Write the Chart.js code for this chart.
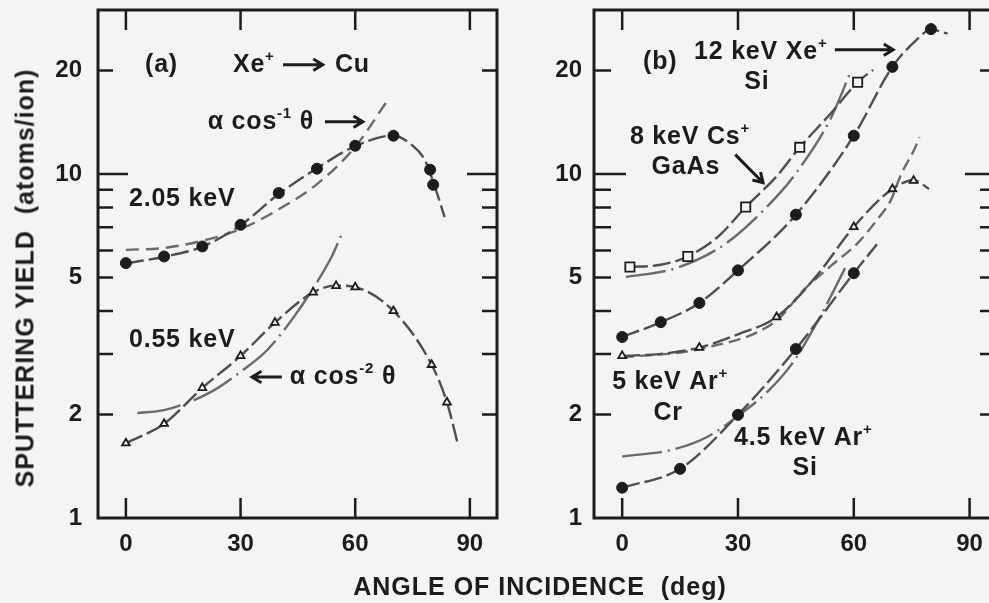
<!DOCTYPE html>
<html>
<head>
<meta charset="utf-8">
<script src="https://cdn.jsdelivr.net/npm/chart.js@4.4.0/dist/chart.umd.min.js"></script>
<style>
html, body { margin: 0; padding: 0; background: #f4f4f4; overflow: hidden; width: 989px; height: 603px; }
canvas { position: absolute; top: 0; }
#chartA { left: 0; }
#chartB { left: 540px; }
.title { position: absolute; font: bold 25px "Liberation Sans", Arial, sans-serif; letter-spacing: 1px; color: #1c1c1c; white-space: pre; }
#xTitle { left: 540px; top: 586px; transform: translate(-50%, -50%); }
#yTitle { left: 25px; top: 278px; transform: translate(-50%, -50%) rotate(-90deg); }
</style>
</head>
<body>
<canvas id="chartA" width="500" height="603"></canvas>
<canvas id="chartB" width="460" height="603"></canvas>
<div class="title" id="xTitle">ANGLE OF INCIDENCE  (deg)</div>
<div class="title" id="yTitle">SPUTTERING YIELD  (atoms/ion)</div>
<script>
// axis ticks
const xTicks = [0, 30, 60, 90];
const yTicks = [1, 2, 3, 4, 5, 6, 7, 8, 9, 10, 20];
const yLabels = [1, 2, 5, 10, 20];

// (a) Xe+ -> Cu, 2.05 keV
const cuHighAngle = [0, 10, 20, 30, 40, 50, 60, 70, 79.6, 80.4];
const cuHighYield = [5.51, 5.76, 6.16, 7.12, 8.81, 10.37, 12.09, 12.93, 10.3, 9.31];
const cuHighCurveAngle = [0, 10, 20, 30, 40, 50, 60, 70, 75, 78, 80, 83.4];
const cuHighCurveYield = [5.5, 5.75, 6.15, 7.1, 8.75, 10.4, 12.05, 12.95, 12.1, 11.1, 9.8, 7.5];
const cuCos1Angle = [0, 10, 20, 30, 40, 50, 60, 68];
const cuCos1Yield = [6.02, 6.1, 6.4, 6.92, 7.9, 9.35, 12.0, 16.1];

// (a) Xe+ -> Cu, 0.55 keV
const cuLowAngle = [0, 10, 20, 30, 39, 49, 55, 60, 70, 80, 84];
const cuLowYield = [1.65, 1.88, 2.39, 2.96, 3.70, 4.53, 4.73, 4.69, 4.00, 2.79, 2.17];
const cuLowCurveAngle = [0, 10, 20, 30, 39, 49, 55, 60, 70, 80, 84, 86.8];
const cuLowCurveYield = [1.65, 1.88, 2.39, 2.96, 3.70, 4.53, 4.74, 4.69, 4.00, 2.79, 2.17, 1.65];
const cuCos2Angle = [3, 10, 16, 23, 30, 37, 44, 50, 54, 56.5];
const cuCos2Yield = [2.02, 2.06, 2.16, 2.35, 2.66, 3.08, 3.85, 4.85, 5.8, 6.7];

// (b) 8 keV Cs+ -> GaAs
const gaasAngle = [2, 17, 32, 46, 61];
const gaasYield = [5.37, 5.76, 8.02, 11.96, 18.5];
const gaasCurveAngle = [2, 10, 17, 25, 32, 40, 46, 54, 61, 65];
const gaasCurveYield = [5.37, 5.45, 5.76, 6.6, 8.02, 9.85, 11.96, 15.0, 18.5, 20.1];
const gaasFitAngle = [1, 14, 27, 40, 45, 54, 59];
const gaasFitYield = [5.02, 5.33, 6.3, 8.6, 10.05, 14.5, 19.6];

// (b) 12 keV Xe+ -> Si
const siXeAngle = [0, 10, 20, 30, 45, 60, 70, 80];
const siXeYield = [3.36, 3.71, 4.22, 5.25, 7.62, 12.93, 20.5, 26.4];
const siXeCurveAngle = [0, 10, 20, 30, 45, 60, 70, 76, 80, 84.3];
const siXeCurveYield = [3.36, 3.71, 4.22, 5.25, 7.62, 12.93, 20.5, 24.4, 26.3, 25.6];

// (b) 5 keV Ar+ -> Cr
const crAngle = [0, 20, 40, 60, 70, 75.5];
const crYield = [2.96, 3.13, 3.84, 7.02, 9.05, 9.57];
const crCurveAngle = [0, 10, 20, 30, 40, 50, 60, 70, 75.5, 79.5];
const crCurveYield = [2.96, 3.0, 3.13, 3.42, 3.84, 5.0, 7.02, 9.05, 9.6, 9.05];
const crFitAngle = [0, 20, 40, 47, 54, 61, 66, 69.6, 72.2, 75.7, 77];
const crFitYield = [2.93, 3.1, 3.75, 4.6, 5.4, 6.3, 7.36, 8.4, 9.95, 11.8, 12.8];

// (b) 4.5 keV Ar+ -> Si
const siArAngle = [0, 15, 30, 45, 60];
const siArYield = [1.225, 1.39, 1.995, 3.10, 5.15];
const siArCurveAngle = [0, 15, 30, 45, 60, 66];
const siArCurveYield = [1.225, 1.39, 1.995, 3.10, 5.15, 6.25];
const siArFitAngle = [0, 13, 22, 30, 38, 44.5, 51, 54, 58];
const siArFitYield = [1.51, 1.58, 1.72, 1.98, 2.35, 2.86, 3.8, 4.4, 5.4];

// text labels and arrows, placed in data units (angle, yield)
const labelsA = [
    { text: '(a)', x: 5.0, y: 20.8 },
    { text: 'Xe^{+}', x: 28.0, y: 20.8 },
    { text: 'Cu', x: 54.7, y: 20.8 },
    { text: 'α cos^{-1} θ', x: 21.4, y: 14.2 },
    { text: '2.05 keV', x: 0.8, y: 8.43 },
    { text: '0.55 keV', x: 0.8, y: 3.30 },
    { text: 'α cos^{-2} θ', x: 42.9, y: 2.57 }
];
const arrowsA = [
    { from: [41.1, 20.8], to: [51.5, 20.8] },
    { from: [52.1, 14.2], to: [62.0, 14.2] },
    { from: [40.8, 2.57], to: [33.0, 2.57] }
];
const labelsB = [
    { text: '(b)', x: 5.4, y: 21.1 },
    { text: '12 keV Xe^{+}', x: 18.6, y: 22.7 },
    { text: 'Si', x: 34.9, y: 18.45, align: 'center' },
    { text: '8 keV Cs^{+}', x: 2.0, y: 12.85 },
    { text: 'GaAs', x: 16.5, y: 10.5, align: 'center' },
    { text: '5 keV Ar^{+}', x: -2.6, y: 2.49 },
    { text: 'Cr', x: 11.9, y: 2.02, align: 'center' },
    { text: '4.5 keV Ar^{+}', x: 29.0, y: 1.71 },
    { text: 'Si', x: 47.4, y: 1.40, align: 'center' }
];
const arrowsB = [
    { from: [55.1, 23.0], to: [70.2, 23.0] },
    { from: [29.3, 11.39], to: [36.5, 9.44] }
];

const INK = '#1c1c1c';
const BG = '#f4f4f4';
const CURVE = '#4e4e4e';
const FIT = '#6a6a6a';
const FONT = '"Liberation Sans", Arial, sans-serif';

function pts(xs, ys) {
    return xs.map((x, i) => ({ x: x, y: ys[i] }));
}

function markers(xs, ys, style, filled, r) {
    return {
        data: pts(xs, ys),
        showLine: false,
        pointStyle: style,
        pointRadius: r,
        pointBackgroundColor: filled ? INK : BG,
        pointBorderColor: INK,
        pointBorderWidth: filled ? 1 : 1.8
    };
}

function curve(xs, ys, dash, color) {
    return {
        data: pts(xs, ys),
        borderColor: color,
        borderWidth: 2.4,
        borderDash: dash,
        pointRadius: 0,
        cubicInterpolationMode: 'monotone',
        fill: false
    };
}

// split "Xe^{+}" into normal and superscript pieces
function drawRich(ctx, str, x, y, align) {
    const parts = [];
    str.split(/(\^\{[^}]*\})/).forEach(s => {
        if (!s) return;
        if (s.startsWith('^{')) parts.push({ t: s.slice(2, -1), sup: true });
        else parts.push({ t: s, sup: false });
    });
    let w = 0;
    parts.forEach(p => {
        ctx.font = p.sup ? `bold 15px ${FONT}` : `bold 25px ${FONT}`;
        p.w = ctx.measureText(p.t).width;
        w += p.w;
    });
    let cx = align === 'center' ? x - w / 2 : x;
    parts.forEach(p => {
        ctx.font = p.sup ? `bold 15px ${FONT}` : `bold 25px ${FONT}`;
        ctx.fillText(p.t, cx, p.sup ? y - 8 : y);
        cx += p.w;
    });
}

function drawArrow(ctx, x1, y1, x2, y2) {
    const ang = Math.atan2(y2 - y1, x2 - x1);
    const head = 11;
    ctx.beginPath();
    ctx.moveTo(x1, y1);
    ctx.lineTo(x2, y2);
    ctx.moveTo(x2 - head * Math.cos(ang - 0.55), y2 - head * Math.sin(ang - 0.55));
    ctx.lineTo(x2, y2);
    ctx.lineTo(x2 - head * Math.cos(ang + 0.55), y2 - head * Math.sin(ang + 0.55));
    ctx.stroke();
}

const framePlugin = {
    id: 'frame',
    beforeDatasetsDraw(chart, args, opts) {
        const { ctx, chartArea: a, scales: { x, y } } = chart;
        ctx.save();
        ctx.strokeStyle = INK;
        ctx.lineWidth = 3;
        ctx.strokeRect(a.left, a.top, a.right - a.left, a.bottom - a.top);
        ctx.lineWidth = 2.5;
        ctx.beginPath();
        x.ticks.forEach(t => {
            const px = x.getPixelForValue(t.value);
            ctx.moveTo(px, a.bottom); ctx.lineTo(px, a.bottom - 20);
            ctx.moveTo(px, a.top); ctx.lineTo(px, a.top + 20);
        });
        y.ticks.forEach(t => {
            if (t.value <= 1) return;
            const py = y.getPixelForValue(t.value);
            const len = t.value === 10 ? opts.longTick : opts.shortTick;
            ctx.moveTo(a.left, py); ctx.lineTo(a.left + len, py);
            ctx.moveTo(a.right, py); ctx.lineTo(a.right - len, py);
        });
        ctx.stroke();
        ctx.restore();
    },
    afterDatasetsDraw(chart, args, opts) {
        const { ctx, scales: { x, y } } = chart;
        ctx.save();
        ctx.fillStyle = INK;
        ctx.strokeStyle = INK;
        ctx.lineWidth = 3;
        ctx.lineCap = 'butt';
        ctx.textBaseline = 'middle';
        ctx.letterSpacing = '0.8px';
        (opts.labels || []).forEach(l => {
            drawRich(ctx, l.text, x.getPixelForValue(l.x), y.getPixelForValue(l.y), l.align);
        });
        (opts.arrows || []).forEach(ar => {
            drawArrow(ctx,
                x.getPixelForValue(ar.from[0]), y.getPixelForValue(ar.from[1]),
                x.getPixelForValue(ar.to[0]), y.getPixelForValue(ar.to[1]));
        });
        ctx.restore();
    }
};

function makeChart(id, datasets, yAxisWidth, frameOpts) {
    const ctx = document.getElementById(id).getContext('2d');
    return new Chart(ctx, {
        type: 'line',
        data: { datasets: datasets },
        plugins: [framePlugin],
        options: {
            responsive: false,
            animation: false,
            devicePixelRatio: 1,
            layout: { autoPadding: false, padding: { top: 10, right: 3, left: 0, bottom: 0 } },
            plugins: {
                legend: { display: false },
                tooltip: { enabled: false },
                frame: frameOpts
            },
            scales: {
                x: {
                    type: 'linear',
                    min: -7.3,
                    max: 97.1,
                    afterBuildTicks: s => { s.ticks = xTicks.map(v => ({ value: v })); },
                    afterFit: s => {
                        s.height = 85;
                        s.paddingLeft = 0;
                        s.paddingRight = 0;
                    },
                    grid: { display: false, drawTicks: false },
                    border: { display: false },
                    ticks: {
                        padding: 12,
                        maxRotation: 0,
                        autoSkip: false,
                        color: INK,
                        font: { family: FONT, size: 24, weight: 'bold' }
                    }
                },
                y: {
                    type: 'logarithmic',
                    min: 1,
                    max: 30,
                    afterBuildTicks: s => { s.ticks = yTicks.map(v => ({ value: v })); },
                    afterFit: s => {
                        s.width = yAxisWidth;
                        s.paddingTop = 0;
                        s.paddingBottom = 0;
                    },
                    grid: { display: false, drawTicks: false },
                    border: { display: false },
                    ticks: {
                        padding: frameOpts.labelPad,
                        autoSkip: false,
                        color: INK,
                        font: { family: FONT, size: 24, weight: 'bold' },
                        callback: v => yLabels.includes(v) ? String(v) : ''
                    }
                }
            }
        }
    });
}

makeChart('chartA', [
    markers(cuHighAngle, cuHighYield, 'circle', true, 5.5),
    markers(cuLowAngle, cuLowYield, 'triangle', false, 4.5),
    curve(cuHighCurveAngle, cuHighCurveYield, [18, 5], CURVE),
    curve(cuCos1Angle, cuCos1Yield, [13, 7], FIT),
    curve(cuLowCurveAngle, cuLowCurveYield, [18, 5], CURVE),
    curve(cuCos2Angle, cuCos2Yield, [44, 6, 2, 6], FIT)
], 98, { longTick: 30, shortTick: 15, labelPad: 16, labels: labelsA, arrows: arrowsA });

makeChart('chartB', [
    markers(gaasAngle, gaasYield, 'rect', false, 6.5),
    markers(siXeAngle, siXeYield, 'circle', true, 5.5),
    markers(crAngle, crYield, 'triangle', false, 4.5),
    markers(siArAngle, siArYield, 'circle', true, 5.5),
    curve(gaasCurveAngle, gaasCurveYield, [18, 5], CURVE),
    curve(gaasFitAngle, gaasFitYield, [40, 6, 2, 6], FIT),
    curve(siXeCurveAngle, siXeCurveYield, [18, 5], CURVE),
    curve(crCurveAngle, crCurveYield, [18, 5], CURVE),
    curve(crFitAngle, crFitYield, [12, 6], FIT),
    curve(siArCurveAngle, siArCurveYield, [18, 5], CURVE),
    curve(siArFitAngle, siArFitYield, [40, 6, 2, 6], FIT)
], 54, { longTick: 32, shortTick: 17, labelPad: 12, labels: labelsB, arrows: arrowsB });
</script>
</body>
</html>
